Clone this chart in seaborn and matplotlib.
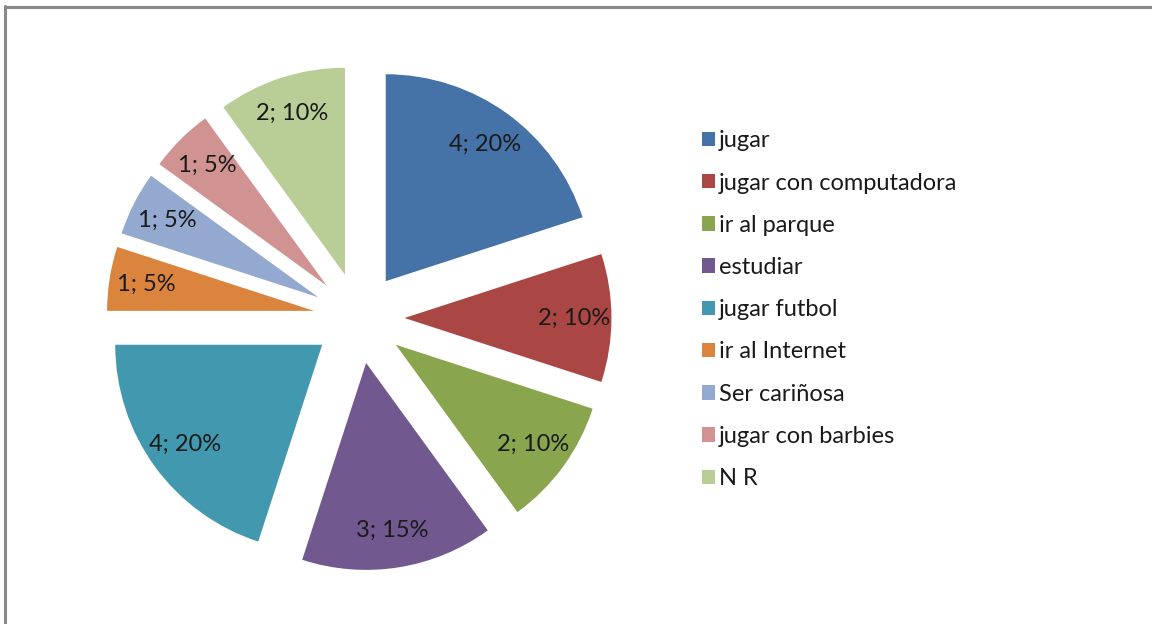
import matplotlib
matplotlib.use('Agg')
import matplotlib.pyplot as plt
import matplotlib.patches as mpatches
import seaborn as sns

# datos
categorias = ['jugar', 'jugar con computadora', 'ir al parque', 'estudiar', 'jugar futbol',
              'ir al Internet', 'Ser cariñosa', 'jugar con barbies', 'N R']
valores = [4, 2, 2, 3, 4, 1, 1, 1, 2]
colores = ['#4572A7', '#AA4643', '#89A54E', '#71588F', '#4198AF',
           '#DB843D', '#93A9CF', '#D19392', '#B9CD96']

sns.set_theme(style='white')
plt.rcParams['font.family'] = ['Lato', 'DejaVu Sans']

fig = plt.figure(figsize=(11.52, 6.24), dpi=100)
fig.patch.set_facecolor('white')

# borde gris del area del grafico (solo arriba e izquierda visibles)
fig.add_artist(plt.Line2D([5 / 1152, 5 / 1152], [0, 1 - 6 / 624], transform=fig.transFigure,
                          color='#888888', linewidth=2.2))
fig.add_artist(plt.Line2D([5 / 1152, 1], [1 - 7 / 624, 1 - 7 / 624], transform=fig.transFigure,
                          color='#888888', linewidth=2.2))

lado = 538
cx, cy = 359, 306
ax = fig.add_axes([(cx - lado / 2) / 1152, (cy - lado / 2) / 624, lado / 1152, lado / 624])

total = sum(valores)
etiquetas = iter([f'{v}; {round(100 * v / total)}%' for v in valores])

wedges, textos = ax.pie(valores, colors=colores, startangle=90, counterclock=False,
                        explode=[0.22] * len(valores), radius=1,
                        autopct=lambda p: next(etiquetas), pctdistance=0.82,
                        wedgeprops=dict(linewidth=0),
                        textprops=dict(fontsize=17, color='#1a1a1a'))[:2]
ax.set_xlim(-1.3, 1.3)
ax.set_ylim(-1.3, 1.3)
ax.set_aspect('equal')
ax.axis('off')

handles = [mpatches.Patch(facecolor=c, edgecolor='none') for c in colores]
fig.legend(handles, categorias, loc='upper left', bbox_to_anchor=(681 / 1152, 1 - 109 / 624),
           frameon=False, fontsize=17, handlelength=0.56, handleheight=0.56,
           handletextpad=0.15, labelspacing=0.9, labelcolor='#1a1a1a')

plt.savefig('out.png', dpi=100)
